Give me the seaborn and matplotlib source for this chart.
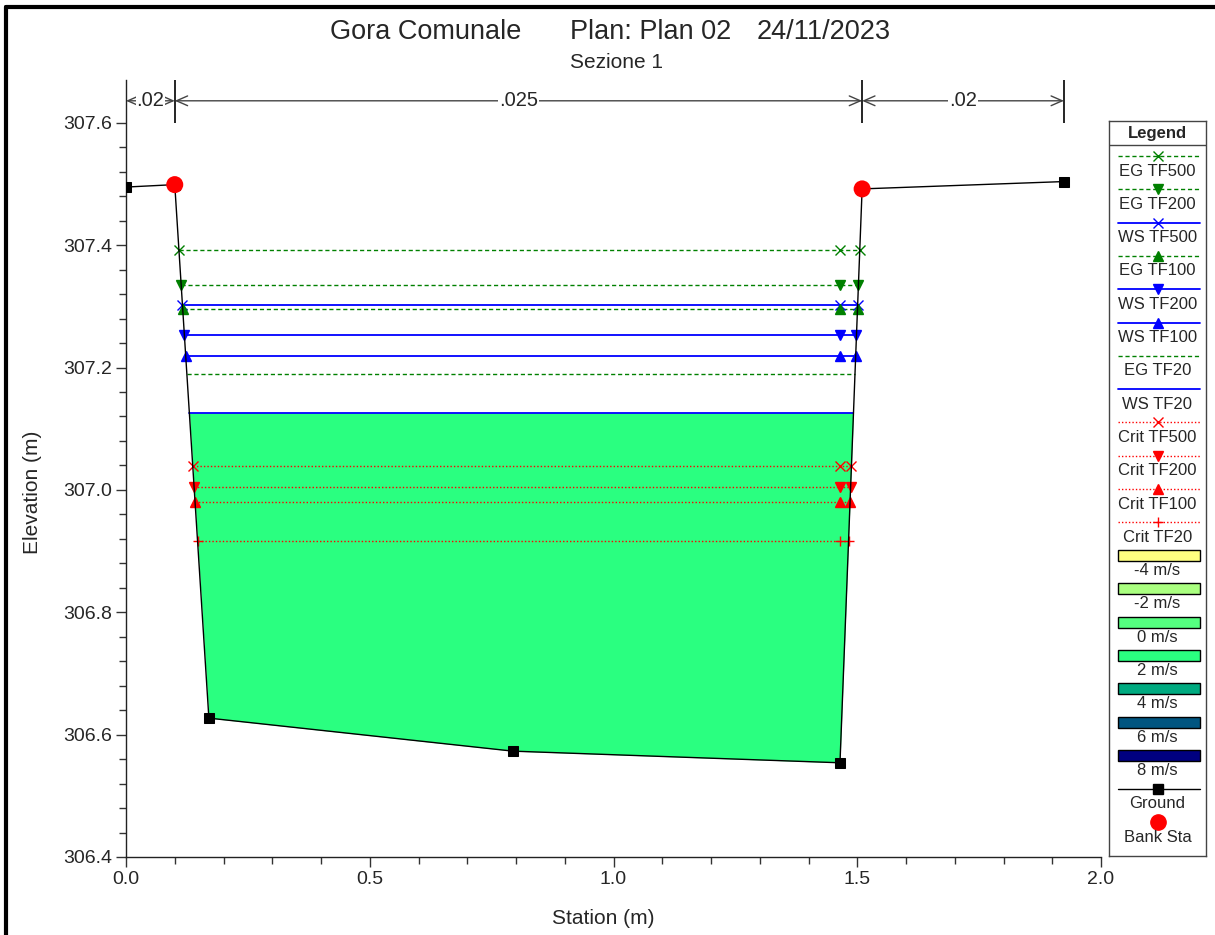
import numpy as np
import matplotlib
matplotlib.use("Agg")
import matplotlib.pyplot as plt
import seaborn as sns
from matplotlib.lines import Line2D
from matplotlib.patches import Rectangle
from matplotlib.ticker import FixedLocator

# ---------------- data ----------------
station = [0.0, 0.100, 0.170, 0.794, 1.4646, 1.510, 1.924]
elevation = [307.495, 307.499, 306.627, 306.573, 306.554, 307.492, 307.504]
bank_station = [0.100, 1.510]
bank_elev = [307.499, 307.492]

mann_bounds = [0.0, 0.100, 1.510, 1.924]
mann_labels = [".02", ".025", ".02"]

profile_names = ["EG TF500", "EG TF200", "WS TF500", "EG TF100", "WS TF200", "WS TF100",
                 "EG TF20", "WS TF20", "Crit TF500", "Crit TF200", "Crit TF100", "Crit TF20"]
profile_elev = [307.392, 307.335, 307.302, 307.296, 307.253, 307.219,
                307.190, 307.126, 307.039, 307.005, 306.980, 306.917]
filled_profile = "WS TF20"

velocity_labels = ["-4 m/s", "-2 m/s", "0 m/s", "2 m/s", "4 m/s", "6 m/s", "8 m/s"]
velocity_colors = ["#ffff80", "#aaff80", "#55ff80", "#2aff80", "#00aa80", "#005580", "#000080"]

title_parts = ["Gora Comunale", "Plan: Plan 02", "24/11/2023"]
subtitle = "Sezione 1"

# ---------------- style ----------------
sns.set_style("ticks")
plt.rcParams["font.family"] = ["Liberation Sans", "DejaVu Sans"]

kind_style = {"EG": dict(color="#008000", ls=(0, (3, 2)), lw=1.0),
              "WS": dict(color="#0000ff", ls="-", lw=1.3),
              "Crit": dict(color="#ff0000", ls=(0, (1, 1.5)), lw=1.0)}
marker_of = {"TF500": "x", "TF200": "v", "TF100": "^", "TF20": None}


def style_for(name):
    kind, prof = name.split()
    st = dict(kind_style[kind])
    m = marker_of[prof]
    if kind == "Crit" and prof == "TF20":
        m = "+"
    st["marker"] = m
    return st


fig = plt.figure(figsize=(12.15, 9.35), dpi=100)
W, H = 1215, 935
ax = fig.add_axes([126 / W, 1 - 857 / H, (1101 - 126) / W, (857 - 80) / H])

st_arr = np.array(station)
el_arr = np.array(elevation)


def left_x(z):
    return np.interp(z, [el_arr[2], el_arr[1]], [st_arr[2], st_arr[1]])


def right_x(z):
    return np.interp(z, [el_arr[4], el_arr[5]], [st_arr[4], st_arr[5]])


# water fill for WS TF20
ws = profile_elev[profile_names.index(filled_profile)]
xl, xr = left_x(ws), right_x(ws)
inner = [s for s in station if xl < s < xr]
fx = np.array([xl] + inner + [xr])
fy = np.interp(fx, st_arr, el_arr)
ax.fill_between(fx, fy, ws, color="#2aff80", lw=0, zorder=1)

# profile lines
for name, z in zip(profile_names, profile_elev):
    st = style_for(name)
    a, b = left_x(z), right_x(z)
    ax.plot([a, b], [z, z], color=st["color"], ls=st["ls"], lw=st["lw"], zorder=3)
    if st["marker"]:
        mx = [a, station[4], b]
        ax.plot(mx, [z] * 3, ls="none", marker=st["marker"], color=st["color"],
                ms=7, mew=1.0, zorder=4)

# ground
sns.lineplot(x=station, y=elevation, sort=False, estimator=None, ax=ax, color="black",
             lw=1.0, marker="s", markersize=7, markeredgecolor="black", zorder=5)
sns.scatterplot(x=bank_station, y=bank_elev, ax=ax, color="red", s=150, edgecolor="none", zorder=6)

# axes
ax.set_xlim(0, 2.0)
ax.set_ylim(306.4, 307.67)
ax.xaxis.set_major_locator(FixedLocator([0, 0.5, 1.0, 1.5, 2.0]))
ax.xaxis.set_minor_locator(FixedLocator(np.round(np.arange(0, 2.01, 0.1), 2)))
ax.yaxis.set_major_locator(FixedLocator(np.round(np.arange(306.4, 307.61, 0.2), 2)))
ax.yaxis.set_minor_locator(FixedLocator(np.round(np.arange(306.4, 307.61, 0.04), 2)))
ax.xaxis.set_major_formatter(matplotlib.ticker.FormatStrFormatter("%.1f"))
ax.yaxis.set_major_formatter(matplotlib.ticker.FormatStrFormatter("%.1f"))
ax.tick_params(axis="both", which="major", length=7, width=1, labelsize=14, color="#333333", pad=3)
ax.tick_params(axis="both", which="minor", length=5, width=1, color="#333333")
for s in ["top", "right"]:
    ax.spines[s].set_visible(False)
for s in ["left", "bottom"]:
    ax.spines[s].set_linewidth(1.0)
    ax.spines[s].set_color("#222222")
ax.set_xlabel("")
ax.set_ylabel("")

# Manning dimension annotations
ydim = 307.636
for i, lab in enumerate(mann_labels):
    a, b = mann_bounds[i], mann_bounds[i + 1]
    ax.annotate("", xy=(a, ydim), xytext=(b, ydim), annotation_clip=False,
                arrowprops=dict(arrowstyle="<->,head_length=0.8,head_width=0.35",
                                color="#444444", lw=1.0, shrinkA=0, shrinkB=0))
    ax.text((a + b) / 2, ydim, lab, ha="center", va="center", fontsize=14.5,
            bbox=dict(facecolor="white", edgecolor="none", pad=0.5), clip_on=False, zorder=7)
ax.vlines(mann_bounds[1:], 307.6, 307.67, color="black", lw=1.2, clip_on=False)

# titles & labels
for txt, x in zip(title_parts, [330, 570, 757]):
    fig.text(x / W, 1 - 32 / H, txt, ha="left", va="center", fontsize=19.5)
fig.text(616 / W, 1 - 63 / H, subtitle, ha="center", va="center", fontsize=15)
fig.text(603 / W, 1 - 919 / H, "Station (m)", ha="center", va="center", fontsize=15)
fig.text(32 / W, 1 - 492 / H, "Elevation (m)", ha="center", va="center", fontsize=15, rotation=90)

# figure border (left & top)
fig.add_artist(Line2D([6 / W, 6 / W], [0, 1 - 7 / H], color="black", lw=3, transform=fig.transFigure))
fig.add_artist(Line2D([6 / W, 1], [1 - 7 / H, 1 - 7 / H], color="black", lw=3, transform=fig.transFigure))

# ---------------- legend ----------------
lx0, lx1, ly0, ly1 = 1109, 1206, 121, 856
lax = fig.add_axes([lx0 / W, 1 - ly1 / H, (lx1 - lx0) / W, (ly1 - ly0) / H])
lw_, lh_ = lx1 - lx0, ly1 - ly0
lax.set_xlim(0, lw_)
lax.set_ylim(lh_, 0)
lax.set_xticks([])
lax.set_yticks([])
for s in lax.spines.values():
    s.set_visible(True)
    s.set_color("#444444")
    s.set_linewidth(1.0)
lax.text(lw_ / 2, 12, "Legend", ha="center", va="center", fontsize=12, fontweight="bold")
lax.plot([0, lw_], [24, 24], color="#444444", lw=1.0)

step = 33.3
y0 = 35
cx = lw_ / 2
xa, xb = 9, 91
i = 0
for name in profile_names:
    y = y0 + step * i
    st = style_for(name)
    lax.plot([xa, xb], [y, y], color=st["color"], ls=st["ls"], lw=st["lw"])
    if st["marker"]:
        lax.plot([cx], [y], marker=st["marker"], color=st["color"], ms=6.5, mew=1.0, ls="none")
    lax.text(cx, y + 15, name, ha="center", va="center", fontsize=12)
    i += 1
for lab, col in zip(velocity_labels, velocity_colors):
    y = y0 + step * i
    lax.add_patch(Rectangle((xa, y - 5.5), xb - xa, 11, facecolor=col, edgecolor="black", lw=1.0))
    lax.text(cx, y + 15, lab, ha="center", va="center", fontsize=12)
    i += 1
y = y0 + step * i
lax.plot([xa, xb], [y, y], color="black", lw=1.0)
lax.plot([cx], [y], marker="s", color="black", ms=7, ls="none")
lax.text(cx, y + 15, "Ground", ha="center", va="center", fontsize=12)
i += 1
y = y0 + step * i
lax.plot([cx], [y], marker="o", color="red", ms=11, ls="none")
lax.text(cx, y + 15, "Bank Sta", ha="center", va="center", fontsize=12)

fig.savefig("out.png", dpi=100)
